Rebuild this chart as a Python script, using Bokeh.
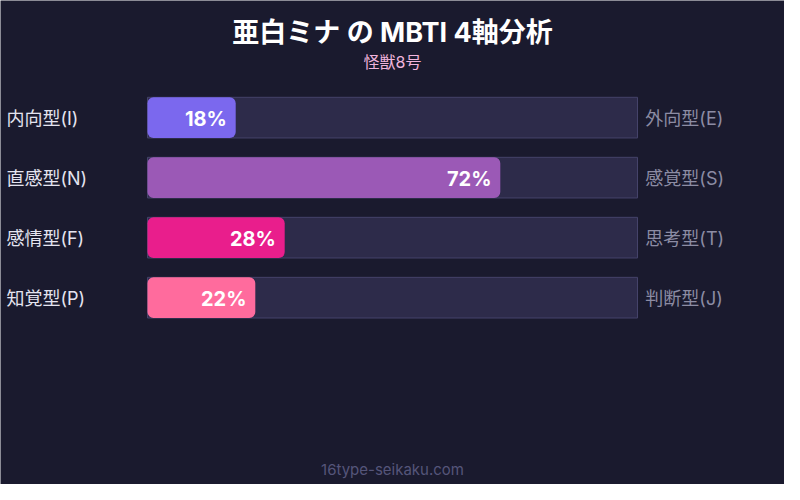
from bokeh.plotting import figure
from bokeh.models import Range1d, ColumnDataSource
from bokeh.core.properties import value
from bokeh.embed import file_html
from bokeh.resources import INLINE

# data
left_labels = ["内向型(I)", "直感型(N)", "感情型(F)", "知覚型(P)"]
right_labels = ["外向型(E)", "感覚型(S)", "思考型(T)", "判断型(J)"]
percents = [18, 72, 28, 22]
colors = ["#7b68ee", "#9b59b6", "#e91e8c", "#ff6b9d"]

title = "亜白ミナ の MBTI 4軸分析"
subtitle = "怪獣8号"
footer = "16type-seikaku.com"

BG = "#1a1a2e"
FONT = "Inter, 'Noto Sans CJK JP'"

# layout in 800x500 design units
bar_x0, bar_w = 150, 500
row_y0, row_h, row_step = 100, 42, 62

n = len(percents)
tops = [row_y0 + i * row_step for i in range(n)]
bottoms = [t + row_h for t in tops]
mids = [t + row_h / 2 + 1 for t in tops]
ends = [bar_x0 + bar_w * v / 100 for v in percents]

src = ColumnDataSource(dict(
    top=tops, bottom=bottoms, mid=mids, end=ends, color=colors,
    pct=[f"{v}%" for v in percents], left=left_labels, right=right_labels,
    x0=[bar_x0] * n, x1=[bar_x0 + bar_w] * n,
    lab_x=[e - 9 for e in ends], lx=[6] * n, rx=[bar_x0 + bar_w + 8] * n,
))

p = figure(width=784, height=484, x_range=Range1d(0, 800), y_range=Range1d(500, 0),
           output_backend="svg", toolbar_location=None, min_border=0)
p.axis.visible = False
p.grid.visible = False
p.outline_line_color = None
p.background_fill_color = BG
p.border_fill_color = BG

# tracks
p.quad(left="x0", right="x1", top="top", bottom="bottom", source=src,
       fill_color="#2d2b4a", line_color="#45436a", line_width=1)
# fills
p.quad(left="x0", right="end", top="top", bottom="bottom", source=src,
       fill_color="color", line_color=None, border_radius=6)

p.text(x="lab_x", y="mid", text="pct", source=src, text_color="white",
       text_font=value(FONT), text_font_size="20px", text_font_style="bold",
       text_align="right", text_baseline="middle")
p.text(x="lx", y="mid", text="left", source=src, text_color="#e4e4f0",
       text_font=value(FONT), text_font_size="18px",
       text_align="left", text_baseline="middle")
p.text(x="rx", y="mid", text="right", source=src, text_color="#8c8ca4",
       text_font=value(FONT), text_font_size="18px",
       text_align="left", text_baseline="middle")

p.text(x=[400], y=[33], text=[title], text_color="white", text_font=value(FONT),
       text_font_size="27px", text_font_style="bold", text_align="center",
       text_baseline="middle")
p.text(x=[400], y=[64], text=[subtitle], text_color="#f0b4dc", text_font=value(FONT),
       text_font_size="16px", text_align="center", text_baseline="middle")
p.text(x=[400], y=[484], text=[footer], text_color="#55557a", text_font=value("Inter"),
       text_font_size="15px", text_align="center", text_baseline="middle")

open("out.html", "w").write(file_html(p, INLINE))
